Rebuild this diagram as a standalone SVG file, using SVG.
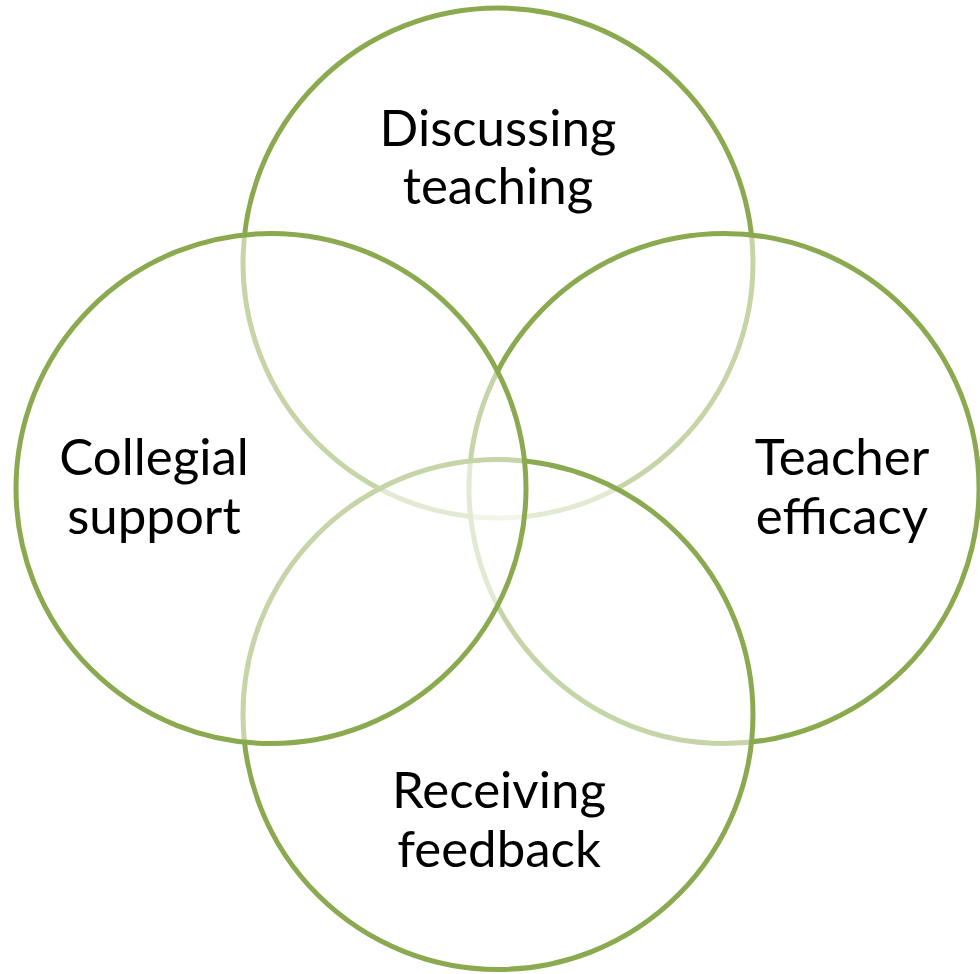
<svg xmlns="http://www.w3.org/2000/svg" width="980" height="974" viewBox="0 0 980 974">
<style>
.c{fill:#FFFFFF;fill-opacity:0.5;stroke:#8BAA4F;stroke-width:5}
.t{font-family:Lato,"Liberation Sans",sans-serif;font-size:51px;fill:#000000;text-anchor:middle}
</style>
<rect width="980" height="974" fill="#FFFFFF"/>
<g id="discussing-teaching">
<circle class="c" cx="498" cy="263" r="255"/>
<text class="t" x="498" y="146">Discussing</text>
<text class="t" x="498" y="204">teaching</text>
</g>
<g id="teacher-efficacy">
<circle class="c" cx="724" cy="488.5" r="255"/>
<text class="t" x="842" y="475">Teacher</text>
<text class="t" x="842" y="534">efficacy</text>
</g>
<g id="receiving-feedback">
<circle class="c" cx="498" cy="714.5" r="255"/>
<text class="t" x="499" y="808">Receiving</text>
<text class="t" x="499" y="867">feedback</text>
</g>
<g id="collegial-support">
<circle class="c" cx="271" cy="488.5" r="255"/>
<text class="t" x="154" y="475">Collegial</text>
<text class="t" x="154" y="534">support</text>
</g>
<g id="connectors"/>
</svg>
